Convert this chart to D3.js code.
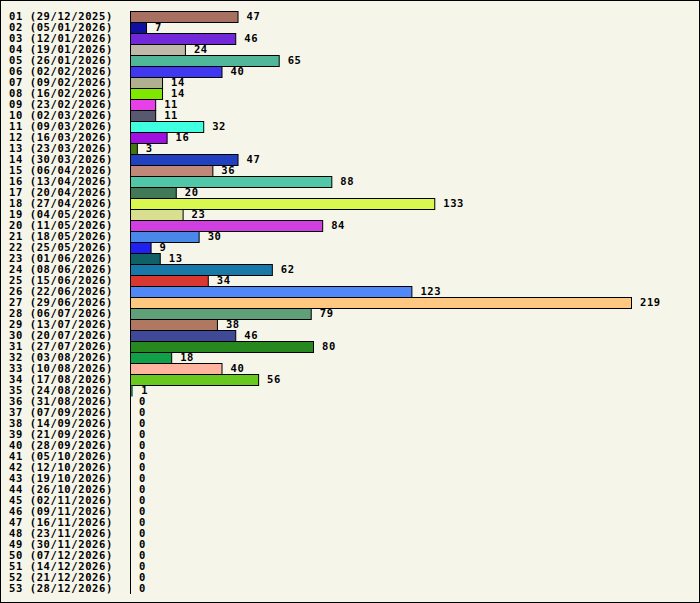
<!DOCTYPE html>
<meta charset="utf-8">
<script src="https://d3js.org/d3.v7.min.js"></script>
<style>
  body { margin: 0; background: #fff; }
  svg text { font-family: "DejaVu Sans Mono", monospace; font-weight: bold; font-size: 10.5px; letter-spacing: 0.6px; fill: #000; }
</style>
<div id="chart"></div>
<script>

var width = 700,
  height = 603,
  bg = "#f5f5ea",
  rowH = 11,
  top0 = 11,
  axisX = 130,
  maxX = 631,
  labelX = 9,
  valueGap = 9;

var weeks = ["01","02","03","04","05","06","07","08","09","10","11","12","13","14","15","16","17","18",
  "19","20","21","22","23","24","25","26","27","28","29","30","31","32","33","34","35","36",
  "37","38","39","40","41","42","43","44","45","46","47","48","49","50","51","52","53"];

var dates = ["29/12/2025","05/01/2026","12/01/2026","19/01/2026","26/01/2026","02/02/2026","09/02/2026",
  "16/02/2026","23/02/2026","02/03/2026","09/03/2026","16/03/2026","23/03/2026","30/03/2026",
  "06/04/2026","13/04/2026","20/04/2026","27/04/2026","04/05/2026","11/05/2026","18/05/2026",
  "25/05/2026","01/06/2026","08/06/2026","15/06/2026","22/06/2026","29/06/2026","06/07/2026",
  "13/07/2026","20/07/2026","27/07/2026","03/08/2026","10/08/2026","17/08/2026","24/08/2026",
  "31/08/2026","07/09/2026","14/09/2026","21/09/2026","28/09/2026","05/10/2026","12/10/2026",
  "19/10/2026","26/10/2026","02/11/2026","09/11/2026","16/11/2026","23/11/2026","30/11/2026",
  "07/12/2026","14/12/2026","21/12/2026","28/12/2026"];

var values = [47,7,46,24,65,40,14,14,11,11,32,16,3,47,36,88,20,133,23,84,30,9,13,62,34,123,219,79,
  38,46,80,18,40,56,1,0,0,0,0,0,0,0,0,0,0,0,0,0,0,0,0,0,0];

var colors = ["#a87060","#1010a0","#7028d8","#c0b8a8","#50b898","#4038f0","#b0b090","#80e800",
  "#e840e8","#585870","#40ffe0","#a010e0","#407810","#2040c0","#c08878","#50c8a8","#407858",
  "#d8f850","#d8e090","#d040e0","#4888e8","#2020f0","#106068","#1878a8","#d83830","#5088f8",
  "#ffc880","#60a078","#b07860","#404898","#288820","#10a048","#ffb4a0","#68c820","#207050"];

var data = weeks.map(function(w, i) {
  return {label: w + " (" + dates[i] + ")", value: values[i], color: colors[i] || "#888"};
});

var svg = d3.select("#chart")
  .append("svg")
    .attr("width", width)
    .attr("height", height);

svg.append("rect")
  .attr("x", 0.5).attr("y", 0.5)
  .attr("width", width - 1).attr("height", height - 1)
  .style("fill", bg)
  .style("stroke", "#000");

var x = d3.scaleLinear().domain([0, d3.max(values)]).range([axisX, maxX]);
var y = d3.scaleBand().domain(d3.range(data.length))
  .range([top0, top0 + rowH * data.length]);

svg.selectAll("rowlabels")
  .data(data)
  .enter()
  .append("text")
    .attr("x", labelX)
    .attr("y", function(d, i) { return y(i) + rowH / 2; })
    .attr("dy", "0.38em")
    .text(function(d) { return d.label; });

svg.selectAll("bars")
  .data(data.filter(function(d) { return d.value > 0; }))
  .enter()
  .append("rect")
    .attr("x", axisX + 0.5)
    .attr("y", function(d) { return y(data.indexOf(d)) + 0.5; })
    .attr("width", function(d) { return Math.max(x(d.value) - axisX, 1); })
    .attr("height", rowH)
    .style("fill", function(d) { return d.color; })
    .style("stroke", function(d) { return d.value > 1 ? "#000" : "none"; });

svg.append("line")
  .attr("x1", axisX + 0.5).attr("x2", axisX + 0.5)
  .attr("y1", top0).attr("y2", top0 + rowH * data.length)
  .style("stroke", "#000");

svg.selectAll("values")
  .data(data)
  .enter()
  .append("text")
    .attr("x", function(d) { return x(d.value) + valueGap; })
    .attr("y", function(d, i) { return y(i) + rowH / 2; })
    .attr("dy", "0.38em")
    .text(function(d) { return d.value; });

</script>
